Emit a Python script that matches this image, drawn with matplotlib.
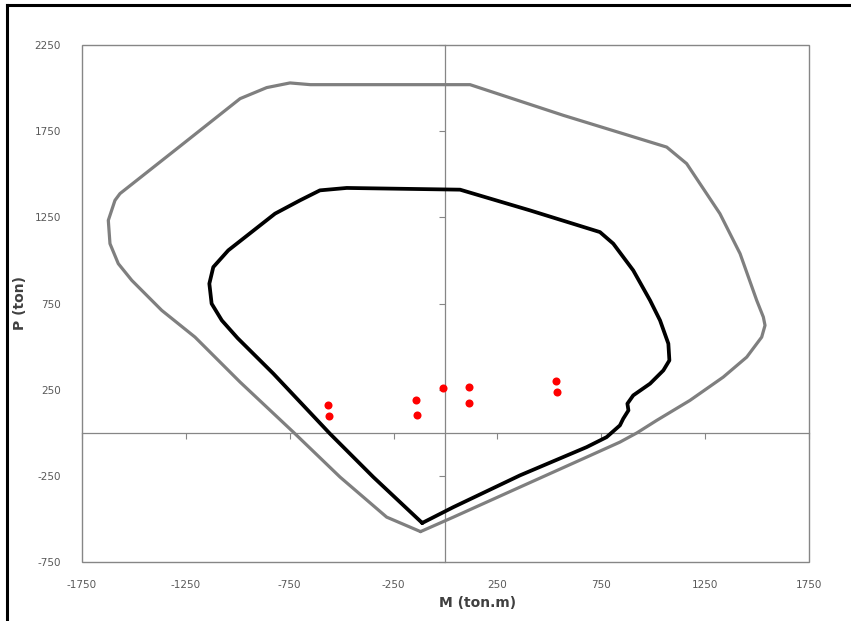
import matplotlib
matplotlib.use("Agg")
import matplotlib.pyplot as plt
from matplotlib.lines import Line2D
from matplotlib.patches import Rectangle

# ---- data ----
outer_M = [-120, -283, -507, -732, -988, -1205, -1365, -1509, -1574, -1614, -1622,
           -1590, -1566, -1277, -988, -860, -748, -650, 118, 567, 1064, 1160, 1320,
           1417, 1497, 1529, 1537, 1521, 1449, 1336, 1176, 1016, 920, 839, 679,
           358, 38, -120]
outer_P = [-572, -488, -256, 5, 295, 556, 711, 885, 982, 1098, 1233,
           1349, 1388, 1663, 1939, 2003, 2030, 2020, 2020, 1842, 1658, 1562, 1272,
           1040, 769, 672, 624, 556, 440, 324, 189, 73, 0, -53, -140,
           -314, -488, -572]

inner_M = [-112, -347, -556, -828, -1000, -1076, -1125, -1136, -1117, -1045, -820,
           -700, -604, -475, 70, 406, 743, 807, 903, 984, 1032, 1072, 1077, 1048,
           984, 903, 875, 880, 855, 839, 775, 679, 358, 38, -112]
inner_P = [-522, -256, -4, 344, 550, 653, 750, 866, 962, 1059, 1272,
           1349, 1407, 1421, 1411, 1291, 1165, 1098, 943, 769, 653, 518, 421, 363,
           286, 218, 170, 131, 83, 44, -24, -82, -246, -430, -522]

load_M = [-565, -562, -142, -137, -13, 114, 114, 531, 535]
load_P = [162, 96, 193, 107, 258, 268, 176, 301, 237]

x_ticks = [-1750, -1250, -750, -250, 250, 750, 1250, 1750]
y_ticks = [-750, -250, 250, 750, 1250, 1750, 2250]

# ---- figure ----
W, H = 851, 621
fig = plt.figure(figsize=(W / 100, H / 100), dpi=100)
fig.patch.set_facecolor("white")

pos = [81.7 / W, 1 - 562.3 / H, (809.3 - 81.7) / W, (562.3 - 45) / H]
ax = fig.add_axes(pos)
ax.set_xlim(-1750, 1750)
ax.set_ylim(-750, 2250)

axis_col = "#868686"
for s in ["top", "right"]:
    ax.spines[s].set_visible(False)
ax.spines["left"].set_position(("data", 0))
ax.spines["bottom"].set_position(("data", 0))
for s in ["left", "bottom"]:
    ax.spines[s].set_color(axis_col)
    ax.spines[s].set_linewidth(0.9)
ax.set_xticks(x_ticks)
ax.set_yticks(y_ticks)
ax.tick_params(axis="both", direction="out", length=4, width=0.8, color=axis_col,
               labelleft=False, labelbottom=False)
ax.add_patch(Rectangle((0, 0), 1, 1, transform=ax.transAxes, fill=False,
                       edgecolor=axis_col, linewidth=1.0, zorder=1, clip_on=False))

ax.plot(outer_M, outer_P, color="#7f7f7f", linewidth=2.3, solid_joinstyle="round",
        solid_capstyle="round", zorder=3)
ax.plot(inner_M, inner_P, color="#000000", linewidth=2.7, solid_joinstyle="round",
        solid_capstyle="round", zorder=4)
ax.plot(load_M, load_P, linestyle="none", marker="o", markersize=5.8,
        color="#ff0000", markeredgewidth=0, zorder=5)

# tick labels at plot edges
ax2 = fig.add_axes(pos, frameon=False)
ax2.set_xlim(-1750, 1750)
ax2.set_ylim(-750, 2250)
ax2.set_xticks(x_ticks)
ax2.set_yticks(y_ticks)
ax2.set_xticklabels([str(v) for v in x_ticks])
ax2.set_yticklabels([str(v) for v in y_ticks])
ax2.tick_params(axis="both", length=0, labelsize=7.5, labelcolor="#595959")
ax2.tick_params(axis="x", pad=13)
ax2.tick_params(axis="y", pad=15)
ax2.patch.set_visible(False)

fig.text(20 / W, 1 - 303 / H, "P (ton)", rotation=90, ha="center", va="center",
         fontsize=10, fontweight="bold", color="#404040")
fig.text(478 / W, 1 - 603 / H, "M (ton.m)", ha="center", va="center",
         fontsize=10, fontweight="bold", color="#404040")

# outer black frame (left and top edges)
fig.add_artist(Line2D([7 / W, 7 / W], [0, 1 - 5 / H], transform=fig.transFigure,
                      color="black", linewidth=2.2))
fig.add_artist(Line2D([7 / W, 1], [1 - 5 / H, 1 - 5 / H], transform=fig.transFigure,
                      color="black", linewidth=2.2))

fig.savefig("out.png", dpi=100)
